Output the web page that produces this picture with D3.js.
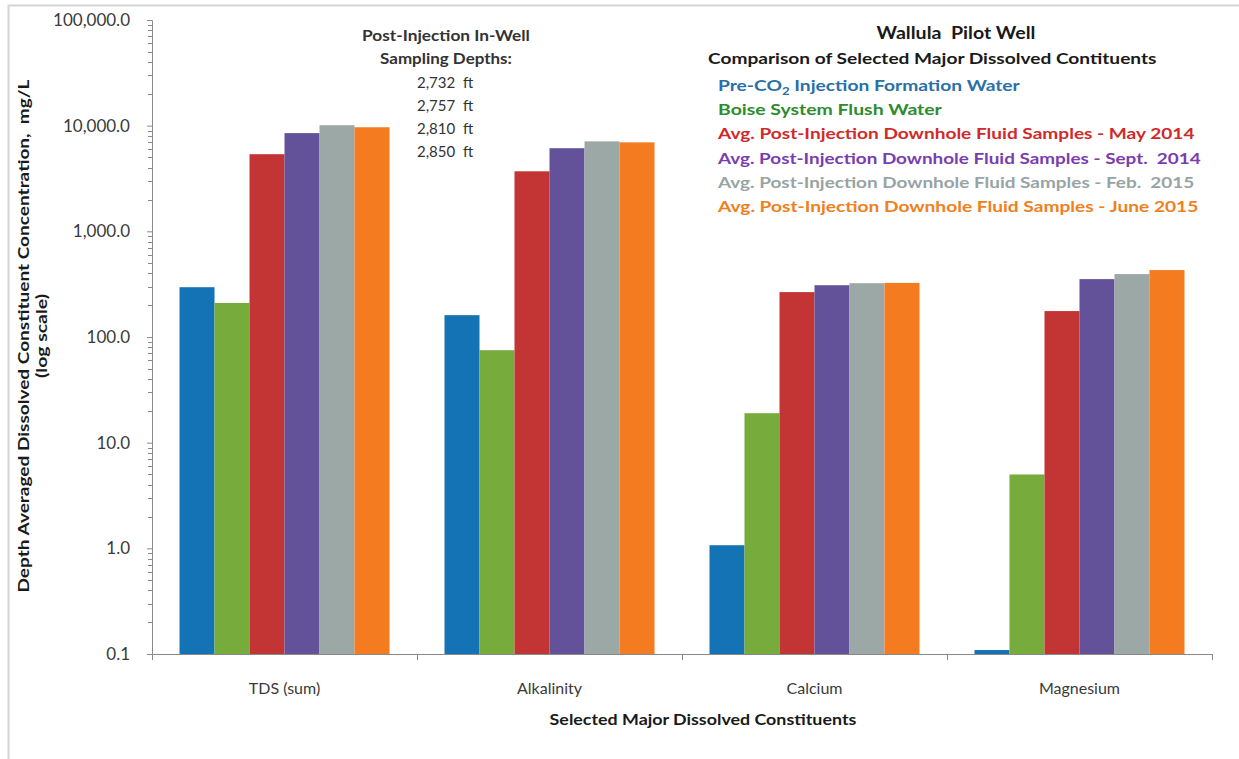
<!DOCTYPE html>
<html>
<head>
<meta charset="utf-8">
<script src="https://cdn.jsdelivr.net/npm/d3@7"></script>
<style>
  html, body { margin: 0; padding: 0; background: #fff; }
  svg { display: block; font-family: Lato, "Open Sans", sans-serif; }
  text { white-space: pre; }
</style>
</head>
<body>
<svg id="chart" width="1239" height="759"></svg>
<script>
// Constituents along the x axis
const categories = ["TDS (sum)", "Alkalinity", "Calcium", "Magnesium"];

// Depth-averaged concentrations, mg/L
const preCO2Water   = [296, 161, 1.07, 0.109];
const boiseFlush    = [210, 75, 19, 5.0];
const postMay2014   = [5370, 3700, 266, 176];
const postSept2014  = [8500, 6120, 309, 353];
const postFeb2015   = [10100, 7100, 323, 394];
const postJune2015  = [9660, 6950, 325, 430];

const seriesNames = [
  "Pre-CO2 Injection Formation Water",
  "Boise System Flush Water",
  "Avg. Post-Injection Downhole Fluid Samples - May 2014",
  "Avg. Post-Injection Downhole Fluid Samples - Sept.  2014",
  "Avg. Post-Injection Downhole Fluid Samples - Feb.  2015",
  "Avg. Post-Injection Downhole Fluid Samples - June 2015"
];

// Y axis major tick values
const yTicks = [0.1, 1, 10, 100, 1000, 10000, 100000];

// Sampling depths listed in the annotation
const depths = ["2,732", "2,757", "2,810", "2,850"];

const seriesValues = [preCO2Water, boiseFlush, postMay2014, postSept2014, postFeb2015, postJune2015];
const barColors  = ["#1473b4", "#77ac3c", "#c33535", "#63519a", "#9ba8a6", "#f57b20"];
const textColors = ["#2a6fa8", "#2e8b2e", "#d02a2a", "#7a3db0", "#98a4a3", "#f0801e"];
const legendWidths = [302, 224, 478, 484, 478, 482];

const svg = d3.select("#chart");

// Stretch a text element horizontally to a given width, keeping its anchor fixed
function fitWidth(sel, width, anchorX) {
  const w = sel.node().getBBox().width;
  if (w > 0) {
    const k = width / w;
    sel.attr("transform", `translate(${anchorX},0) scale(${k},1) translate(${-anchorX},0)`);
  }
  return sel;
}

// Outer frame (top and left edges visible)
svg.append("rect")
  .attr("x", 8.5).attr("y", 5.5).attr("width", 1260).attr("height", 780)
  .attr("fill", "none").attr("stroke", "#d4d4d4").attr("stroke-width", 2);

const plot = { left: 152, right: 1212, top: 20, bottom: 654 };

const x = d3.scaleBand()
  .domain(categories)
  .range([plot.left, plot.right])
  .paddingInner(0.2075)
  .paddingOuter(0.1038);

const xs = d3.scaleBand()
  .domain(d3.range(seriesValues.length))
  .range([0, x.bandwidth()]);

const y = d3.scaleLog()
  .domain([0.1, 100000])
  .range([plot.bottom, plot.top]);

// Bars
const groups = svg.append("g")
  .selectAll("g")
  .data(categories)
  .join("g")
  .attr("transform", d => `translate(${x(d)},0)`);

groups.selectAll("rect")
  .data((c, ci) => seriesValues.map((vals, si) => ({ si, v: vals[ci] })))
  .join("rect")
  .attr("x", d => xs(d.si))
  .attr("width", xs.bandwidth())
  .attr("y", d => y(d.v))
  .attr("height", d => y(0.1) - y(d.v))
  .attr("fill", d => barColors[d.si]);

// Y axis with log minor ticks
const axisColor = "#8a8a8a";
const minorTicks = [];
for (let k = -1; k < 5; k++) {
  for (let m = 2; m <= 9; m++) minorTicks.push(m * Math.pow(10, k));
}
const yAxisG = svg.append("g").attr("transform", `translate(${plot.left},0)`);
yAxisG.call(d3.axisLeft(y).tickValues(yTicks).tickSize(5).tickFormat(d3.format(",.1f")));
yAxisG.select(".domain").attr("stroke", axisColor);
yAxisG.selectAll(".tick line").attr("stroke", axisColor);
yAxisG.selectAll(".tick text")
  .attr("x", -22)
  .attr("fill", "#3a3a3a")
  .style("font-size", "17px")
  .style("font-family", "Lato, sans-serif");
yAxisG.selectAll(".minor")
  .data(minorTicks)
  .join("line")
  .attr("class", "minor")
  .attr("x1", -4).attr("x2", 0)
  .attr("y1", d => Math.round(y(d)) + 0.5).attr("y2", d => Math.round(y(d)) + 0.5)
  .attr("stroke", axisColor);

// X axis: line with ticks at category boundaries
const xAxisG = svg.append("g").attr("transform", `translate(0,${plot.bottom})`);
const bounds = [plot.left].concat(categories.map(c => x(c) + x.bandwidth() + x.step() * x.paddingInner() / 2));
bounds[bounds.length - 1] = plot.right;
xAxisG.append("line")
  .attr("x1", plot.left).attr("x2", plot.right)
  .attr("y1", 0.5).attr("y2", 0.5)
  .attr("stroke", axisColor);
xAxisG.selectAll(".btick")
  .data(bounds)
  .join("line")
  .attr("class", "btick")
  .attr("x1", d => Math.round(d) + 0.5).attr("x2", d => Math.round(d) + 0.5)
  .attr("y1", 0).attr("y2", 6)
  .attr("stroke", axisColor);
xAxisG.selectAll(".clabel")
  .data(categories)
  .join("text")
  .attr("class", "clabel")
  .attr("x", d => x(d) + x.bandwidth() / 2)
  .attr("y", 40)
  .attr("text-anchor", "middle")
  .attr("fill", "#3a3a3a")
  .style("font-size", "16px")
  .text(d => d);

// Axis titles
fitWidth(svg.append("text")
  .attr("x", 703)
  .attr("y", 725)
  .attr("text-anchor", "middle")
  .attr("fill", "#1a1a1a")
  .style("font-size", "16px")
  .style("font-weight", "bold")
  .text("Selected Major Dissolved Constituents"), 307, 703);

const yTitle = svg.append("text")
  .attr("transform", "translate(29,336) rotate(-90)")
  .attr("text-anchor", "middle")
  .attr("fill", "#1a1a1a")
  .style("font-size", "16px")
  .style("font-weight", "bold");
yTitle.append("tspan").attr("x", 0).attr("dy", 0)
  .attr("textLength", 513).attr("lengthAdjust", "spacingAndGlyphs")
  .text("Depth Averaged Dissolved Constituent Concentration,  mg/L");
yTitle.append("tspan").attr("x", 0).attr("dy", 18)
  .attr("textLength", 84).attr("lengthAdjust", "spacingAndGlyphs")
  .text("(log scale)");

// Sampling depth annotation
const ann = svg.append("g").attr("fill", "#333");
fitWidth(ann.append("text").attr("x", 446).attr("y", 41).attr("text-anchor", "middle")
  .style("font-size", "15px").style("font-weight", "bold").text("Post-Injection In-Well"), 168, 446);
fitWidth(ann.append("text").attr("x", 446).attr("y", 64).attr("text-anchor", "middle")
  .style("font-size", "15px").style("font-weight", "bold").text("Sampling Depths:"), 132, 446);
ann.selectAll(".depth")
  .data(depths)
  .join("text")
  .attr("class", "depth")
  .attr("x", 417)
  .attr("y", (d, i) => 88 + i * 23)
  .style("font-size", "15px")
  .text(d => d + "  ft");

// Title and legend block
fitWidth(svg.append("text").attr("x", 956).attr("y", 39).attr("text-anchor", "middle")
  .attr("fill", "#1a1a1a")
  .style("font-size", "17px").style("font-weight", "bold").text("Wallula  Pilot Well"), 159, 956);
fitWidth(svg.append("text").attr("x", 708).attr("y", 64)
  .attr("fill", "#1a1a1a")
  .style("font-size", "16px").style("font-weight", "bold")
  .text("Comparison of Selected Major Dissolved Contituents"), 449, 708);

const legend = svg.append("g");
seriesNames.forEach((name, i) => {
  const t = legend.append("text")
    .attr("x", 718)
    .attr("y", 91 + i * 24.2)
    .attr("fill", textColors[i])
    .style("font-size", "16px")
    .style("font-weight", "bold");
  if (name.indexOf("CO2") >= 0) {
    const [a, b] = name.split("CO2");
    t.append("tspan").text(a + "CO");
    t.append("tspan").attr("dy", 4).style("font-size", "11px").text("2");
    t.append("tspan").attr("dy", -4).text(b);
  } else {
    t.text(name);
  }
  fitWidth(t, legendWidths[i], 718);
});
</script>
</body>
</html>
